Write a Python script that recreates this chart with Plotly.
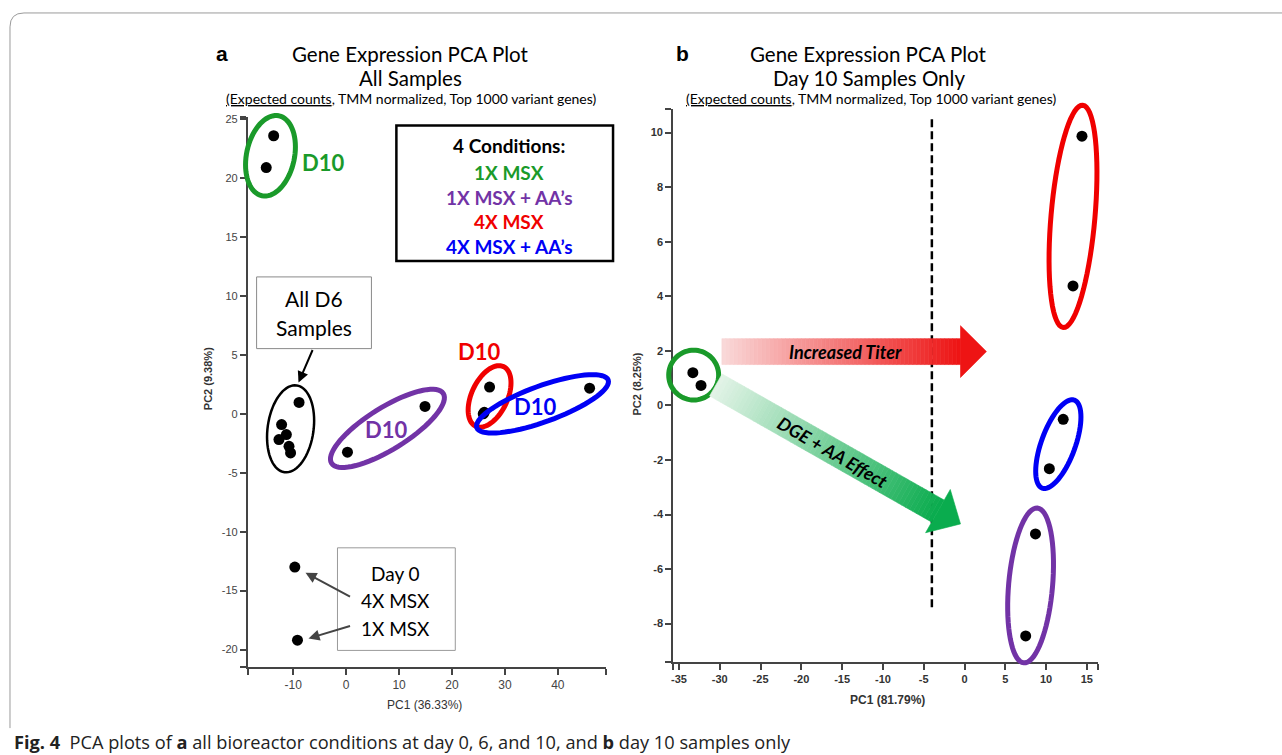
import math
import plotly.graph_objects as go

# ---------------- data ----------------
left_xticks = [-10, 0, 10, 20, 30, 40]
left_yticks = [-20, -15, -10, -5, 0, 5, 10, 15, 20, 25]
right_xticks = [-35, -30, -25, -20, -15, -10, -5, 0, 5, 10, 15]
right_yticks = [-8, -6, -4, -2, 0, 2, 4, 6, 8, 10]

# Panel a (all samples)
a_d10_1x_x = [-13.7, -15.1]
a_d10_1x_y = [23.6, 20.9]
a_d6_x = [-8.9, -12.2, -11.3, -12.7, -10.8, -10.5]
a_d6_y = [0.97, -0.91, -1.76, -2.18, -2.75, -3.31]
a_d10_1xaa_x = [0.25, 14.9]
a_d10_1xaa_y = [-3.25, 0.63]
a_d10_4x_x = [27.1, 26.1]
a_d10_4x_y = [2.27, 0.13]
a_d10_4xaa_x = [46.0, 25.9]
a_d10_4xaa_y = [2.18, 0.0]
a_d0_x = [-9.7, -9.2]
a_d0_y = [-13.0, -19.2]

# Panel b (day 10 only)
b_1x_x = [-33.3, -32.3]
b_1x_y = [1.2, 0.73]
b_4x_x = [14.4, 13.3]
b_4x_y = [9.87, 4.38]
b_4xaa_x = [12.1, 10.4]
b_4xaa_y = [-0.51, -2.32]
b_1xaa_x = [8.7, 7.5]
b_1xaa_y = [-4.71, -8.45]

# ---------------- layout geometry ----------------
W, H = 1282, 755
LBOX = dict(x0=246, x1=605, yb=667, yt=114, xr=[-18.62, 49.11], yr=[-21.51, 25.23])
RBOX = dict(x0=672, x1=1098, yb=662, yt=106, xr=[-35.74, 16.40], yr=[-9.42, 10.88])

GREEN = "#1A9A2A"
PURPLE = "#7233A6"
RED = "#F00000"
BLUE = "#0000F5"
CAL = "Lato, Open Sans, sans-serif"
ARIAL = "Liberation Sans Narrow, Liberation Sans, Arial, sans-serif"


def px(X):
    return X / W


def py(Y):
    return 1 - Y / H


def d2p(box, x, y):
    X = box["x0"] + (x - box["xr"][0]) / (box["xr"][1] - box["xr"][0]) * (box["x1"] - box["x0"])
    Y = box["yb"] - (y - box["yr"][0]) / (box["yr"][1] - box["yr"][0]) * (box["yb"] - box["yt"])
    return X, Y


def ellipse_shape(box, cx, cy, a, b, ang, color, width):
    Xc, Yc = d2p(box, cx, cy)
    th = math.radians(ang)
    pts = []
    for i in range(73):
        t = 2 * math.pi * i / 72
        ex, ey = a * math.cos(t), b * math.sin(t)
        dx = ex * math.cos(th) - ey * math.sin(th)
        dy = ex * math.sin(th) + ey * math.cos(th)
        pts.append((px(Xc + dx), py(Yc - dy)))
    path = "M " + " L ".join(f"{x:.5f},{y:.5f}" for x, y in pts) + " Z"
    return dict(type="path", xref="paper", yref="paper", path=path,
                line=dict(color=color, width=width), fillcolor="rgba(0,0,0,0)")


def poly(points, color):
    path = "M " + " L ".join(f"{px(X):.5f},{py(Y):.5f}" for X, Y in points) + " Z"
    return dict(type="path", xref="paper", yref="paper", path=path,
                fillcolor=color, line=dict(color=color, width=0.6))


def grad_arrow(start, tip, hw, hl, hhw, c0, c1, n=60):
    sx, sy = start
    tx, ty = tip
    L = math.hypot(tx - sx, ty - sy)
    ux, uy = (tx - sx) / L, (ty - sy) / L
    nx, ny = -uy, ux
    body = L - hl
    out = []
    for i in range(n):
        s0 = body * i / n
        s1 = body * (i + 1) / n
        f = (i + 0.5) / n
        col = "rgb(%d,%d,%d)" % tuple(int(c0[k] + (c1[k] - c0[k]) * f) for k in range(3))
        p = []
        for s, sg in ((s0, 1), (s1, 1), (s1, -1), (s0, -1)):
            p.append((sx + ux * s + nx * hw * sg, sy + uy * s + ny * hw * sg))
        out.append(poly(p, col))
    bx, by = sx + ux * body, sy + uy * body
    col = "rgb(%d,%d,%d)" % c1
    out.append(poly([(bx + nx * hhw, by + ny * hhw), (tx, ty), (bx - nx * hhw, by - ny * hhw)], col))
    return out


fig = go.Figure()


def pts(x, y, xa, ya):
    fig.add_trace(go.Scatter(x=x, y=y, xaxis=xa, yaxis=ya, mode="markers",
                             marker=dict(size=11, color="black"), cliponaxis=False,
                             showlegend=False, hoverinfo="skip"))


pts(a_d10_1x_x, a_d10_1x_y, "x", "y")
pts(a_d6_x, a_d6_y, "x", "y")
pts(a_d10_1xaa_x, a_d10_1xaa_y, "x", "y")
pts(a_d10_4x_x, a_d10_4x_y, "x", "y")
pts(a_d10_4xaa_x, a_d10_4xaa_y, "x", "y")
pts(a_d0_x, a_d0_y, "x", "y")
pts(b_1x_x, b_1x_y, "x2", "y2")
pts(b_4x_x, b_4x_y, "x2", "y2")
pts(b_4xaa_x, b_4xaa_y, "x2", "y2")
pts(b_1xaa_x, b_1xaa_y, "x2", "y2")

shapes = []
# outer frame
shapes.append(dict(type="path", xref="paper", yref="paper",
                   path=f"M {px(8)},{py(728)} L {px(8)},{py(24)} Q {px(8)},{py(10)} {px(22)},{py(10)} L {px(1300)},{py(10)}",
                   line=dict(color="#9a9a9a", width=1)))

# ellipses panel a
shapes.append(ellipse_shape(LBOX, -14.3, 21.9, 41, 24, 78, GREEN, 5))
shapes.append(ellipse_shape(LBOX, -10.5, -1.27, 44, 23, 82, "black", 2.5))
shapes.append(ellipse_shape(LBOX, 7.8, -1.23, 66, 21, 32, PURPLE, 5))
shapes.append(ellipse_shape(LBOX, 27.1, 1.48, 33, 18, 65, RED, 5))
shapes.append(ellipse_shape(LBOX, 37.1, 0.85, 70, 18, 20, BLUE, 5))
# ellipses panel b
shapes.append(ellipse_shape(RBOX, -33.2, 1.11, 25, 25, 0, GREEN, 5))
shapes.append(ellipse_shape(RBOX, 13.3, 6.93, 112, 22, 85, RED, 5))
shapes.append(ellipse_shape(RBOX, 11.5, -1.42, 47, 17, 70, BLUE, 5))
shapes.append(ellipse_shape(RBOX, 8.1, -6.6, 78, 22, 85, PURPLE, 5))

# boxes
shapes.append(dict(type="rect", xref="paper", yref="paper", x0=px(395), x1=px(612), y0=py(259), y1=py(123),
                   line=dict(color="black", width=2.5)))
shapes.append(dict(type="rect", xref="paper", yref="paper", x0=px(255), x1=px(370), y0=py(347), y1=py(275),
                   line=dict(color="#8a8a8a", width=1)))
shapes.append(dict(type="rect", xref="paper", yref="paper", x0=px(336), x1=px(454), y0=py(650), y1=py(547),
                   line=dict(color="#9a9a9a", width=1)))

# dashed separator in panel b
shapes.append(dict(type="line", xref="x2", yref="y2", x0=-4, x1=-4, y0=-7.4, y1=10.5,
                   line=dict(color="black", width=2.5, dash="8px,4px")))

# gradient arrows
shapes += grad_arrow((721, 350), (986, 350), 13, 26, 26, (250, 218, 218), (238, 20, 20))
shapes += grad_arrow((715, 383.5), (960, 523), 12.7, 26, 25, (228, 244, 232), (10, 172, 78))

ann = []


def txt(X, Y, s, size, color="black", family=CAL, angle=0, xanchor="center"):
    f = dict(size=size, color=color, family=family)
    ann.append(dict(x=px(X), y=py(Y), xref="paper", yref="paper", text=s, showarrow=False,
                    xanchor=xanchor, yanchor="middle", font=f, textangle=angle))


def arrow(tail, head, color, width):
    ann.append(dict(x=px(head[0]), y=py(head[1]), xref="paper", yref="paper", text="",
                    showarrow=True, ax=tail[0] - head[0], ay=tail[1] - head[1],
                    arrowhead=2, arrowsize=1.1, arrowwidth=width, arrowcolor=color))


# titles
txt(220, 51, "<b>a</b>", 21, family="Liberation Sans, Arial")
txt(682, 51, "<b>b</b>", 21, family="Liberation Sans, Arial")
txt(409, 51, "Gene Expression PCA Plot", 20.5)
txt(409, 75, "All Samples", 20.5)
txt(410, 96, "<u>(Expected counts</u>, TMM normalized, Top 1000 variant genes)", 14)
txt(868, 51, "Gene Expression PCA Plot", 20.5)
txt(868, 75, "Day 10 Samples Only", 20.5)
txt(871, 96, "<u>(Expected counts</u>, TMM normalized, Top 1000 variant genes)", 14)

# legend box text
txt(508, 143, "<b>4 Conditions:</b>", 19)
txt(508, 170, "<b>1X MSX</b>", 19, GREEN)
txt(508, 195, "<b>1X MSX + AA’s</b>", 19, PURPLE)
txt(508, 219, "<b>4X MSX</b>", 19, RED)
txt(508, 244, "<b>4X MSX + AA’s</b>", 19, BLUE)

# group labels panel a
txt(322, 160, "<b>D10</b>", 22, GREEN)
txt(385, 428, "<b>D10</b>", 22, PURPLE)
txt(478, 350, "<b>D10</b>", 22, RED)
txt(534, 405, "<b>D10</b>", 22, BLUE)
txt(312, 297, "All D6", 21)
txt(312, 326, "Samples", 21)
txt(394, 573, "Day 0", 19)
txt(394, 600, "4X MSX", 19)
txt(394, 628, "1X MSX", 19)
arrow((311.7, 347), (297, 381), "black", 2)
arrow((350, 596.7), (304, 572), "#444444", 2)
arrow((350, 625), (307, 638), "#444444", 2)

# arrow labels panel b
txt(845, 350, "<b><i>Increased Titer</i></b>", 18)
txt(832, 451, "<b><i>DGE + AA Effect</i></b>", 18, angle=30)

# axis titles
txt(423, 705, "PC1 (36.33%)", 12, "#333333", ARIAL)
txt(206, 377, "<b>PC2 (9.38%)</b>", 11, "#333333", ARIAL, angle=-90)
txt(887, 700, "<b>PC1 (81.79%)</b>", 12, "#333333", ARIAL)
txt(636, 383, "<b>PC2 (8.25%)</b>", 11, "#333333", ARIAL, angle=-90)

# caption
txt(10, 742, "<b>Fig. 4</b>  PCA plots of <b>a</b> all bioreactor conditions at day 0, 6, and 10, and <b>b</b> day 10 samples only",
    18.2, "#222222", "Open Sans, Noto Sans, sans-serif", xanchor="left")

axis_common = dict(showline=True, linecolor="#444444", linewidth=1.5, ticks="outside", ticklen=6,
                   tickwidth=1.5, tickcolor="#444444", showgrid=False, zeroline=False, fixedrange=True)


def ticks_with_ends(vals, rng):
    tv = [rng[0] + 0.03] + list(vals) + [rng[1] - 0.03]
    tt = [""] + [str(v) for v in vals] + [""]
    return tv, tt


lxv, lxt = ticks_with_ends(left_xticks, LBOX["xr"])
lyv, lyt = ticks_with_ends(left_yticks, LBOX["yr"])
rxv, rxt = ticks_with_ends(right_xticks, RBOX["xr"])
ryv, ryt = ticks_with_ends(right_yticks, RBOX["yr"])

fig.update_layout(
    width=W, height=H, margin=dict(l=0, r=0, t=0, b=0),
    paper_bgcolor="white", plot_bgcolor="white",
    xaxis=dict(domain=[px(LBOX["x0"]), px(LBOX["x1"])], range=LBOX["xr"], anchor="y",
               tickvals=lxv, ticktext=lxt, tickfont=dict(family=ARIAL, size=12, color="#444444"), **axis_common),
    yaxis=dict(domain=[py(LBOX["yb"]), py(LBOX["yt"])], range=LBOX["yr"], anchor="x",
               tickvals=lyv, ticktext=lyt, tickfont=dict(family=ARIAL, size=11, color="#444444"), **axis_common),
    xaxis2=dict(domain=[px(RBOX["x0"]), px(RBOX["x1"])], range=RBOX["xr"], anchor="y2",
                tickvals=rxv, ticktext=rxt, tickfont=dict(family=ARIAL, size=11, color="#333333", weight="bold"), **axis_common),
    yaxis2=dict(domain=[py(RBOX["yb"]), py(RBOX["yt"])], range=RBOX["yr"], anchor="x2",
                tickvals=ryv, ticktext=ryt, tickfont=dict(family=ARIAL, size=11, color="#333333", weight="bold"), **axis_common),
    shapes=shapes, annotations=ann,
)

fig.write_html("out.html", config={"displayModeBar": False},
               post_script="document.documentElement.style.margin='0';document.documentElement.style.padding='0';"
                           "document.body.style.margin='0';document.body.style.padding='0';")
